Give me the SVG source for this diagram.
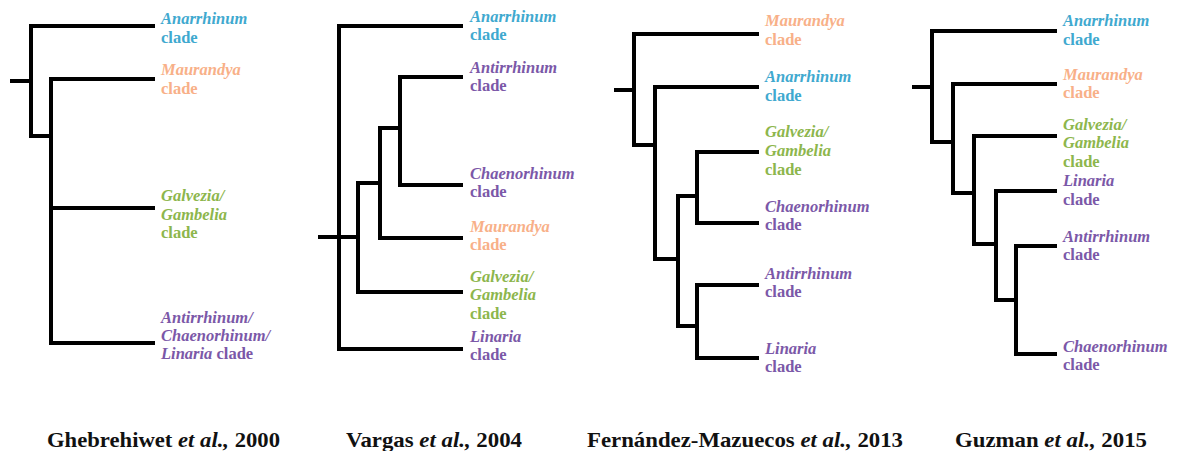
<svg xmlns="http://www.w3.org/2000/svg" width="1177" height="451" viewBox="0 0 1177 451">
<style>
.br{fill:none;stroke:#000;stroke-width:4;stroke-linejoin:miter;stroke-linecap:butt}
text{font-family:"Liberation Serif","Times New Roman",serif;font-size:16.5px;font-weight:bold}
.i{font-style:italic}
.b{fill:#3fa9cf}.o{fill:#f8b088}.g{fill:#8db64c}.p{fill:#7b58a8}
.cap{font-size:21px;fill:#111}
.cap .n{font-style:italic}
</style>
<rect width="1177" height="451" fill="#fff"/>
<g id="connectors">
<path class="br" d="M10 81H31"/>
<path class="br" d="M155 26H31V136H51"/>
<path class="br" d="M155 79H51V343H155"/>
<path class="br" d="M51 208H155"/>
<path class="br" d="M318 237H358"/>
<path class="br" d="M463 26H339V349H463"/>
<path class="br" d="M463 292H358V183H380"/>
<path class="br" d="M463 238H380V128H400"/>
<path class="br" d="M463 77H400V185H463"/>
<path class="br" d="M614 90H634"/>
<path class="br" d="M759 34H634V145H655"/>
<path class="br" d="M759 87H655V259H678"/>
<path class="br" d="M759 152H697V223H759"/>
<path class="br" d="M759 285H697V358H759"/>
<path class="br" d="M697 196H678V326H697"/>
<path class="br" d="M912 87H932"/>
<path class="br" d="M1057 31H932V142H953"/>
<path class="br" d="M1057 84H953V193H974"/>
<path class="br" d="M1057 136H974V244H996"/>
<path class="br" d="M1057 191H996V300H1016"/>
<path class="br" d="M1057 246H1016V354H1057"/>
</g>
<g id="t1-anarrhinum"><text x="161" y="24" class="b"><tspan class="i">Anarrhinum</tspan><tspan x="161" dy="19">clade</tspan></text></g>
<g id="t1-maurandya"><text x="161" y="75" class="o"><tspan class="i">Maurandya</tspan><tspan x="161" dy="18.5">clade</tspan></text></g>
<g id="t1-galvezia"><text x="161" y="201" class="g"><tspan class="i">Galvezia/</tspan><tspan x="161" dy="18.5" class="i">Gambelia</tspan><tspan x="161" dy="18.5">clade</tspan></text></g>
<g id="t1-antirrhinum"><text x="161" y="323" class="p"><tspan class="i">Antirrhinum/</tspan><tspan x="161" dy="18" class="i">Chaenorhinum/</tspan><tspan x="161" dy="18" class="i">Linaria</tspan> clade</text></g>
<g id="t2-anarrhinum"><text x="470" y="22" class="b"><tspan class="i">Anarrhinum</tspan><tspan x="470" dy="18">clade</tspan></text></g>
<g id="t2-antirrhinum"><text x="470" y="73" class="p"><tspan class="i">Antirrhinum</tspan><tspan x="470" dy="18">clade</tspan></text></g>
<g id="t2-chaenorhinum"><text x="470" y="179" class="p"><tspan class="i">Chaenorhinum</tspan><tspan x="470" dy="18">clade</tspan></text></g>
<g id="t2-maurandya"><text x="470" y="232" class="o"><tspan class="i">Maurandya</tspan><tspan x="470" dy="18">clade</tspan></text></g>
<g id="t2-galvezia"><text x="470" y="282" class="g"><tspan class="i">Galvezia/</tspan><tspan x="470" dy="18" class="i">Gambelia</tspan><tspan x="470" dy="18.5">clade</tspan></text></g>
<g id="t2-linaria"><text x="470" y="342" class="p"><tspan class="i">Linaria</tspan><tspan x="470" dy="18">clade</tspan></text></g>
<g id="t3-maurandya"><text x="765" y="26" class="o"><tspan class="i">Maurandya</tspan><tspan x="765" dy="19">clade</tspan></text></g>
<g id="t3-anarrhinum"><text x="765" y="82" class="b"><tspan class="i">Anarrhinum</tspan><tspan x="765" dy="18.5">clade</tspan></text></g>
<g id="t3-galvezia"><text x="765" y="137" class="g"><tspan class="i">Galvezia/</tspan><tspan x="765" dy="19" class="i">Gambelia</tspan><tspan x="765" dy="18.5">clade</tspan></text></g>
<g id="t3-chaenorhinum"><text x="765" y="212" class="p"><tspan class="i">Chaenorhinum</tspan><tspan x="765" dy="18">clade</tspan></text></g>
<g id="t3-antirrhinum"><text x="765" y="279" class="p"><tspan class="i">Antirrhinum</tspan><tspan x="765" dy="18">clade</tspan></text></g>
<g id="t3-linaria"><text x="765" y="354" class="p"><tspan class="i">Linaria</tspan><tspan x="765" dy="18">clade</tspan></text></g>
<g id="t4-anarrhinum"><text x="1063" y="26" class="b"><tspan class="i">Anarrhinum</tspan><tspan x="1063" dy="19">clade</tspan></text></g>
<g id="t4-maurandya"><text x="1063" y="80" class="o"><tspan class="i">Maurandya</tspan><tspan x="1063" dy="18">clade</tspan></text></g>
<g id="t4-galvezia"><text x="1063" y="130" class="g"><tspan class="i">Galvezia/</tspan><tspan x="1063" dy="18" class="i">Gambelia</tspan><tspan x="1063" dy="19">clade</tspan></text></g>
<g id="t4-linaria"><text x="1063" y="186" class="p"><tspan class="i">Linaria</tspan><tspan x="1063" dy="18.5">clade</tspan></text></g>
<g id="t4-antirrhinum"><text x="1063" y="242" class="p"><tspan class="i">Antirrhinum</tspan><tspan x="1063" dy="18">clade</tspan></text></g>
<g id="t4-chaenorhinum"><text x="1063" y="352" class="p"><tspan class="i">Chaenorhinum</tspan><tspan x="1063" dy="18">clade</tspan></text></g>
<g id="captions">
<text class="cap" x="47" y="447" textLength="233" lengthAdjust="spacingAndGlyphs">Ghebrehiwet <tspan class="n">et al.,</tspan> 2000</text>
<text class="cap" x="346" y="447" textLength="176" lengthAdjust="spacingAndGlyphs">Vargas <tspan class="n">et al.,</tspan> 2004</text>
<text class="cap" x="587" y="447" textLength="316" lengthAdjust="spacingAndGlyphs">Fernández-Mazuecos <tspan class="n">et al.,</tspan> 2013</text>
<text class="cap" x="955" y="447" textLength="192" lengthAdjust="spacingAndGlyphs">Guzman <tspan class="n">et al.,</tspan> 2015</text>
</g>
</svg>
